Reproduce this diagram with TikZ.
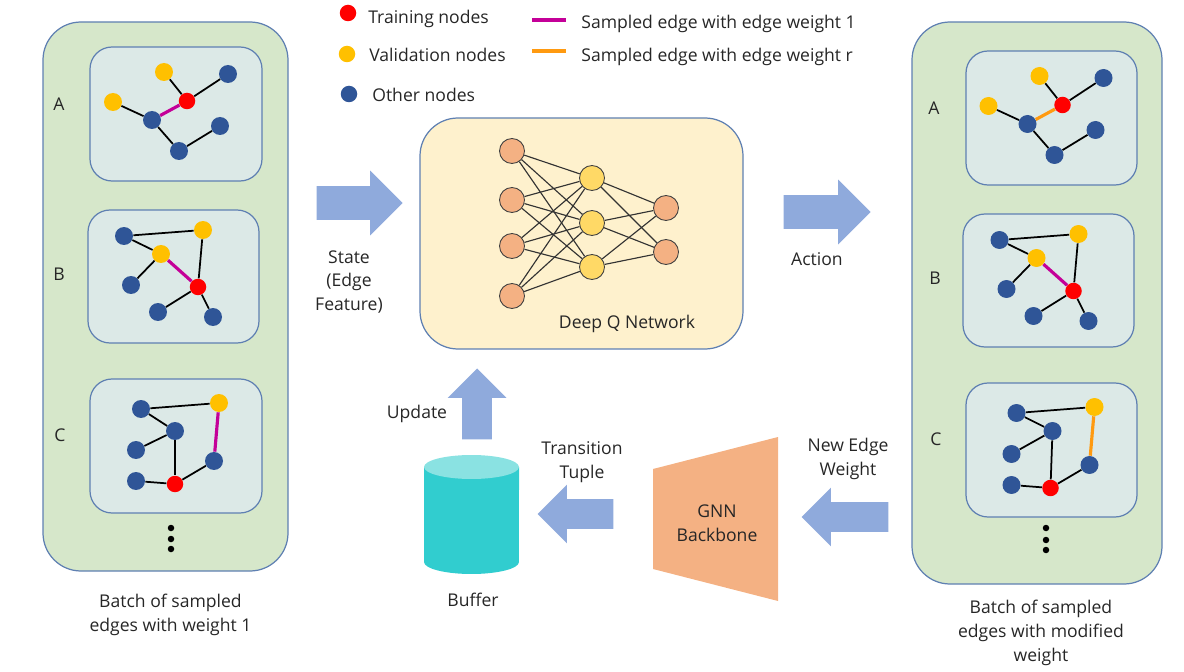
\documentclass[tikz,border=0pt]{standalone}
\usepackage{fontspec}
\setmainfont{Open Sans}
\usepackage{tikz}
\usetikzlibrary{arrows.meta}
\usetikzlibrary{shapes.arrows,shapes.geometric}
\definecolor{panelgreen}{HTML}{D6E7CA}
\definecolor{graphbg}{HTML}{DCE9E7}
\definecolor{panelline}{HTML}{5F80B2}
\definecolor{dqnbg}{HTML}{FEF1CD}
\definecolor{nodeblue}{HTML}{2F5597}
\definecolor{nodeyellow}{HTML}{FFC000}
\definecolor{edgemagenta}{HTML}{C40098}
\definecolor{edgeorange}{HTML}{FF9A10}
\definecolor{arrowblue}{HTML}{8FAADC}
\definecolor{backbone}{HTML}{F4B183}
\definecolor{neuronyellow}{HTML}{FFD966}
\definecolor{buffertop}{HTML}{8AE2E2}
\definecolor{bufferbody}{HTML}{31CDCF}
\definecolor{labelgray}{HTML}{262626}
\tikzset{
  panel/.style={draw=panelline,line width=0.7pt,fill=panelgreen,rounded corners=0.76cm},
  graphbox/.style={draw=panelline,line width=0.7pt,fill=graphbg,rounded corners=0.44cm},
  dot/.style={circle,inner sep=0pt,minimum size=0.36cm},
  tn/.style={dot,fill=red,minimum size=0.33cm},
  vn/.style={dot,fill=nodeyellow},
  on/.style={dot,fill=nodeblue},
  ellipsisdot/.style={circle,inner sep=0pt,minimum size=0.13cm,fill=black},
  edge/.style={draw=black,line width=1pt},
  medge/.style={draw=edgemagenta,line width=1.8pt},
  oedge/.style={draw=edgeorange,line width=1.8pt},
  neuron/.style={circle,draw=black!75,line width=0.5pt,inner sep=0pt,minimum size=0.5cm},
  nlink/.style={draw=black!80,line width=0.65pt},
  blockarrow/.style={single arrow,fill=arrowblue,anchor=tip,single arrow head indent=0pt,single arrow tip angle=90},
  lbl/.style={inner sep=0pt,align=center,text=labelgray,font=\fontsize{10}{13.6}\selectfont},
}
\begin{document}
\begin{tikzpicture}[x=0.02cm,y=-0.02cm,>=stealth]
\useasboundingbox (0,0) rectangle (1184,672);
% left batch
\draw[panel] (43,22) rectangle (288,571);
\draw[graphbox] (90,47) rectangle (262,181); \draw[graphbox] (88,210) rectangle (259,343); \draw[graphbox] (90,379) rectangle (262,513);
\node[vn] (la-1) at (164,72) {}; \node[on] (la-2) at (228,74) {}; \node[tn] (la-3) at (187,101) {}; \node[vn] (la-4) at (113,102) {}; \node[on] (la-5) at (152,120) {}; \node[on] (la-6) at (220,126) {}; \node[on] (la-7) at (179,151) {};
\draw[edge] (la-1) -- (la-3); \draw[edge] (la-2) -- (la-3); \draw[edge] (la-4) -- (la-5); \draw[edge] (la-5) -- (la-7); \draw[edge] (la-7) -- (la-6);
\draw[medge] (la-5) -- (la-3);
\node[on] (lb-1) at (124,236) {}; \node[vn] (lb-2) at (203,230) {}; \node[vn] (lb-3) at (161,254) {}; \node[on] (lb-4) at (131,285) {}; \node[tn] (lb-5) at (198,287) {}; \node[on] (lb-6) at (158,312) {}; \node[on] (lb-7) at (213,317) {};
\draw[edge] (lb-1) -- (lb-2); \draw[edge] (lb-1) -- (lb-3); \draw[edge] (lb-3) -- (lb-4); \draw[edge] (lb-2) -- (lb-5); \draw[edge] (lb-5) -- (lb-6); \draw[edge] (lb-5) -- (lb-7);
\draw[medge] (lb-3) -- (lb-5);
\node[on] (lc-1) at (141,409) {}; \node[vn] (lc-2) at (219,403) {}; \node[on] (lc-3) at (175,431) {}; \node[on] (lc-4) at (136,450) {}; \node[on] (lc-5) at (214,461) {}; \node[on] (lc-6) at (136,481) {}; \node[tn] (lc-7) at (175,484) {};
\draw[edge] (lc-1) -- (lc-2); \draw[edge] (lc-1) -- (lc-3); \draw[edge] (lc-3) -- (lc-4); \draw[edge] (lc-3) -- (lc-7); \draw[edge] (lc-6) -- (lc-7); \draw[edge] (lc-7) -- (lc-5);
\draw[medge] (lc-2) -- (lc-5);
\node[ellipsisdot] (ld-1) at (171,528) {}; \node[ellipsisdot] (ld-2) at (171,539) {}; \node[ellipsisdot] (ld-3) at (171,549) {};
\node[lbl] (la) at (59,104) {A}; \node[lbl] (lb) at (59,274) {B}; \node[lbl] (lc) at (60,435) {C};
\node[lbl] (lcaption) at (170.5,615) {Batch of sampled\\edges with weight 1};
% right batch
\draw[panel] (912,22) rectangle (1162,584);
\draw[graphbox] (966,51) rectangle (1137,185); \draw[graphbox] (963,214) rectangle (1134,347); \draw[graphbox] (966,383) rectangle (1137,517);
\node[vn] (ra-1) at (1039.5,76) {}; \node[on] (ra-2) at (1103.5,78) {}; \node[tn] (ra-3) at (1062.5,105) {}; \node[vn] (ra-4) at (988.5,106) {}; \node[on] (ra-5) at (1027.5,124) {}; \node[on] (ra-6) at (1095.5,130) {}; \node[on] (ra-7) at (1054.5,155) {};
\draw[edge] (ra-1) -- (ra-3); \draw[edge] (ra-2) -- (ra-3); \draw[edge] (ra-4) -- (ra-5); \draw[edge] (ra-5) -- (ra-7); \draw[edge] (ra-7) -- (ra-6);
\draw[oedge] (ra-5) -- (ra-3);
\node[on] (rb-1) at (999.5,240) {}; \node[vn] (rb-2) at (1078.5,234) {}; \node[vn] (rb-3) at (1036.5,258) {}; \node[on] (rb-4) at (1006.5,289) {}; \node[tn] (rb-5) at (1073.5,291) {}; \node[on] (rb-6) at (1033.5,316) {}; \node[on] (rb-7) at (1088.5,321) {};
\draw[edge] (rb-1) -- (rb-2); \draw[edge] (rb-1) -- (rb-3); \draw[edge] (rb-3) -- (rb-4); \draw[edge] (rb-2) -- (rb-5); \draw[edge] (rb-5) -- (rb-6); \draw[edge] (rb-5) -- (rb-7);
\draw[medge] (rb-3) -- (rb-5);
\node[on] (rc-1) at (1016.5,413) {}; \node[vn] (rc-2) at (1094.5,407) {}; \node[on] (rc-3) at (1052.5,431) {}; \node[on] (rc-4) at (1011.5,454) {}; \node[on] (rc-5) at (1089.5,465) {}; \node[on] (rc-6) at (1011.5,485) {}; \node[tn] (rc-7) at (1050.5,488) {};
\draw[edge] (rc-1) -- (rc-2); \draw[edge] (rc-1) -- (rc-3); \draw[edge] (rc-3) -- (rc-4); \draw[edge] (rc-3) -- (rc-7); \draw[edge] (rc-6) -- (rc-7); \draw[edge] (rc-7) -- (rc-5);
\draw[oedge] (rc-2) -- (rc-5);
\node[ellipsisdot] (rd-1) at (1046,528) {}; \node[ellipsisdot] (rd-2) at (1046,540) {}; \node[ellipsisdot] (rd-3) at (1046,550) {};
\node[lbl] (ra) at (934,108) {A}; \node[lbl] (rb) at (935,278) {B}; \node[lbl] (rc) at (936,439) {C};
\node[lbl] (rcaption) at (1041,633) {Batch of sampled\\edges with modified\\weight};
% legend
\node[tn] (keytrain) at (348,13) {}; \node[vn,minimum size=0.33cm] (keyval) at (347,54) {}; \node[on,minimum size=0.33cm] (keyother) at (349,94) {};
\node[lbl,anchor=west] (keytraintext) at (368,19) {Training nodes}; \node[lbl,anchor=west] (keyvaltext) at (369,55) {Validation nodes}; \node[lbl,anchor=west] (keyothertext) at (372,95) {Other nodes};
\coordinate (keym-a) at (532,20); \coordinate (keym-b) at (566,20); \coordinate (keyo-a) at (532,51); \coordinate (keyo-b) at (566,51);
\draw[medge] (keym-a) -- (keym-b); \draw[oedge] (keyo-a) -- (keyo-b);
\node[lbl,anchor=west] (keymtext) at (581,24) {Sampled edge with edge weight 1}; \node[lbl,anchor=west] (keyotext) at (581,57) {Sampled edge with edge weight r};
% deep q network
\draw[draw=panelline,line width=0.7pt,fill=dqnbg,rounded corners=0.76cm] (420,118) rectangle (743,349);
\node[neuron,fill=backbone] (in-1) at (512,151) {}; \node[neuron,fill=backbone] (in-2) at (512,200) {}; \node[neuron,fill=backbone] (in-3) at (512,246) {}; \node[neuron,fill=backbone] (in-4) at (512,296) {};
\node[neuron,fill=neuronyellow] (mid-1) at (592,178) {}; \node[neuron,fill=neuronyellow] (mid-2) at (592,223) {}; \node[neuron,fill=neuronyellow] (mid-3) at (592,267) {};
\node[neuron,fill=backbone] (out-1) at (666,208) {}; \node[neuron,fill=backbone] (out-2) at (666,252) {};
\draw[nlink] (in-1) -- (mid-1); \draw[nlink] (in-1) -- (mid-2); \draw[nlink] (in-1) -- (mid-3);
\draw[nlink] (in-2) -- (mid-1); \draw[nlink] (in-2) -- (mid-2); \draw[nlink] (in-2) -- (mid-3);
\draw[nlink] (in-3) -- (mid-1); \draw[nlink] (in-3) -- (mid-2); \draw[nlink] (in-3) -- (mid-3);
\draw[nlink] (in-4) -- (mid-1); \draw[nlink] (in-4) -- (mid-2); \draw[nlink] (in-4) -- (mid-3);
\draw[nlink] (mid-1) -- (out-1); \draw[nlink] (mid-1) -- (out-2); \draw[nlink] (mid-2) -- (out-1); \draw[nlink] (mid-2) -- (out-2); \draw[nlink] (mid-3) -- (out-1); \draw[nlink] (mid-3) -- (out-2);
\node[lbl] (dqn) at (627,324) {Deep Q Network};
% block arrows
\node[blockarrow,minimum height=1.72cm,inner sep=0.33cm,single arrow head extend=0.31cm] (statearrow) at (403,203) {};
\node[blockarrow,minimum height=1.74cm,inner sep=0.33cm,single arrow head extend=0.31cm] (actionarrow) at (871,212) {};
\node[blockarrow,minimum height=1.42cm,inner sep=0.29cm,single arrow head extend=0.29cm,shape border rotate=90] (updatearrow) at (477,368) {};
\node[blockarrow,minimum height=1.52cm,inner sep=0.29cm,single arrow head extend=0.29cm,shape border rotate=180] (tuplearrow) at (537,514) {};
\node[blockarrow,minimum height=1.74cm,inner sep=0.29cm,single arrow head extend=0.29cm,shape border rotate=180] (weightarrow) at (801,517) {};
\node[lbl] (state) at (349,282) {State\\(Edge\\Feature)};
\node[lbl] (action) at (817,259) {Action};
\node[lbl] (update) at (417,414) {Update};
\node[lbl] (tuple) at (582,462) {Transition\\Tuple};
\node[lbl] (weight) at (848,459) {New Edge\\Weight};
% buffer and backbone
\fill[bufferbody] (424,467) -- (424,562) arc[start angle=180,end angle=360,x radius=0.95cm,y radius=0.24cm] -- (519,467) -- cycle;
\node[ellipse,fill=buffertop,inner sep=0pt,minimum width=1.9cm,minimum height=0.48cm] (buffertopend) at (471.5,467) {};
\node[lbl] (buffertext) at (473,600) {Buffer};
\fill[backbone] (653,469) -- (778,437) -- (778,601) -- (653,569) -- cycle;
\node[lbl] (gnn) at (717,523) {GNN\\Backbone};
\end{tikzpicture}
\end{document}
